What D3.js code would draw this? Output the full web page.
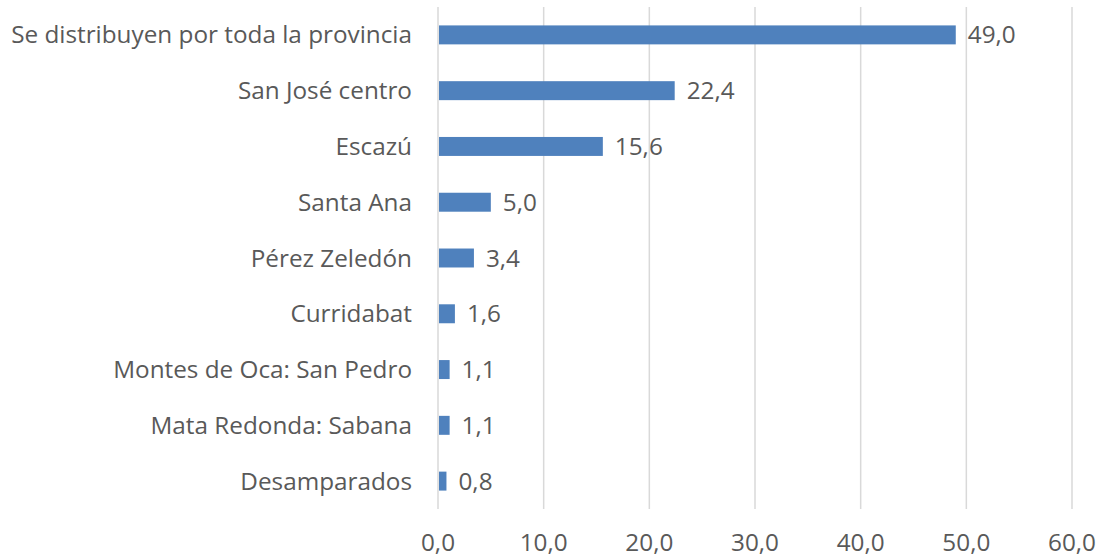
<!DOCTYPE html>
<html>
<head>
<meta charset="utf-8">
<script src="https://cdn.jsdelivr.net/npm/d3@7"></script>
<style>
  body { margin: 0; background: #fff; }
  text { font-family: "Open Sans", sans-serif; fill: #595959; }
</style>
</head>
<body>
<svg id="chart" width="1102" height="558"></svg>
<script>
var categories = ["Se distribuyen por toda la provincia", "San José centro", "Escazú", "Santa Ana",
    "Pérez Zeledón", "Curridabat", "Montes de Oca: San Pedro", "Mata Redonda: Sabana", "Desamparados"];
var values = [49.0, 22.4, 15.6, 5.0, 3.4, 1.6, 1.1, 1.1, 0.8];
var xTicks = [0, 10, 20, 30, 40, 50, 60];

var svg = d3.select('#chart');
var plotLeft = 438, plotRight = 1072, plotTop = 7, plotBottom = 509;
var fontSize = '24.3px';

var x = d3.scaleLinear().domain([0, 60]).range([plotLeft, plotRight]);
var y = d3.scaleBand().domain(categories).range([plotTop, plotBottom]).paddingInner(0.66).paddingOuter(0.33);
var fmt = function (v) { return d3.format('.1f')(v).replace('.', ','); };

// gridlines
svg.append('g').selectAll('line').data(xTicks).enter().append('line')
    .attr('x1', function (d) { return x(d); })
    .attr('x2', function (d) { return x(d); })
    .attr('y1', plotTop).attr('y2', plotBottom)
    .attr('stroke', '#d9d9d9').attr('stroke-width', 1.5);

// bars
svg.append('g').selectAll('rect').data(values).enter().append('rect')
    .attr('x', x(0) + 1)
    .attr('y', function (d, i) { return y(categories[i]); })
    .attr('width', function (d) { return x(d) - x(0) - 1; })
    .attr('height', y.bandwidth())
    .attr('fill', '#4f81bd');

// value labels
svg.append('g').selectAll('text').data(values).enter().append('text')
    .attr('x', function (d) { return x(d) + 12; })
    .attr('y', function (d, i) { return y(categories[i]) + y.bandwidth() / 2; })
    .attr('dy', '0.35em')
    .style('font-size', fontSize)
    .text(fmt);

// category labels
svg.append('g').selectAll('text').data(categories).enter().append('text')
    .attr('x', 412)
    .attr('y', function (d) { return y(d) + y.bandwidth() / 2; })
    .attr('dy', '0.35em')
    .attr('text-anchor', 'end')
    .style('font-size', fontSize)
    .text(function (d) { return d; });

// x axis tick labels
svg.append('g').selectAll('text').data(xTicks).enter().append('text')
    .attr('x', function (d) { return x(d); })
    .attr('y', 551)
    .attr('text-anchor', 'middle')
    .style('font-size', fontSize)
    .text(fmt);
</script>
</body>
</html>
